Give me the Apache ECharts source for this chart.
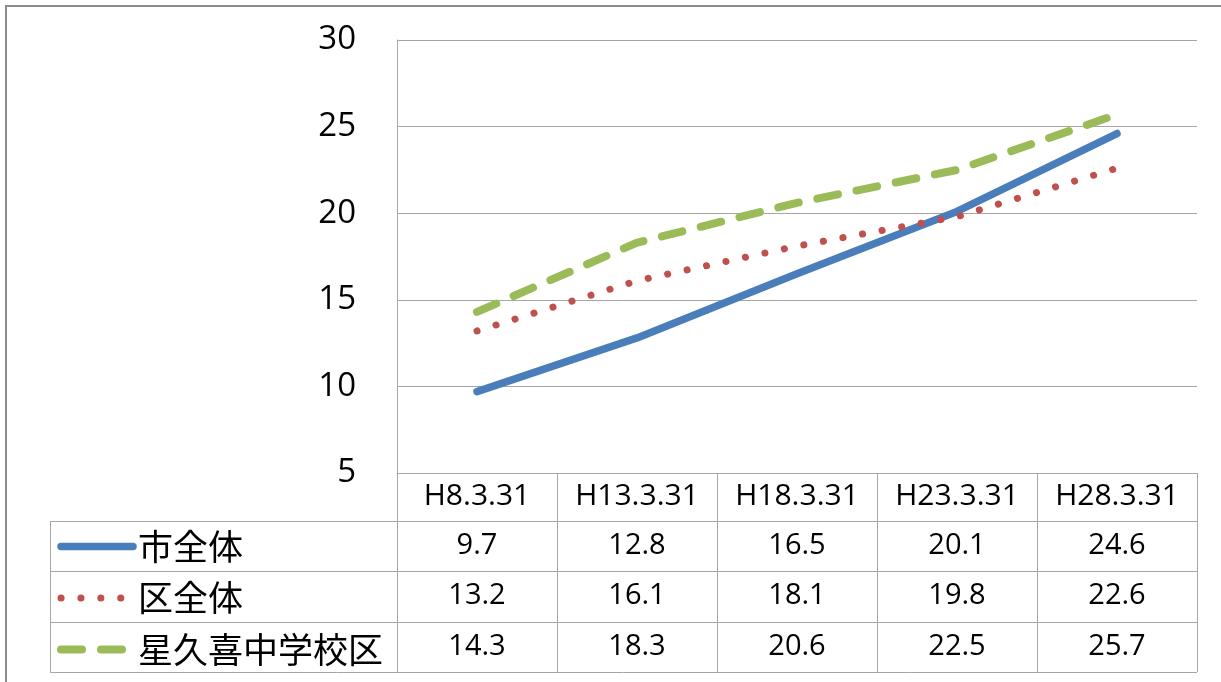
<!DOCTYPE html>
<html>
<head>
<meta charset="utf-8">
<script src="https://cdn.jsdelivr.net/npm/echarts@6/dist/echarts.min.js"></script>
<style>
  html, body { margin: 0; padding: 0; background: #fff; }
  #chart { width: 1221px; height: 682px; }
</style>
</head>
<body>
<div id="chart"></div>
<script>
// 年次
const categories = ['H8.3.31', 'H13.3.31', 'H18.3.31', 'H23.3.31', 'H28.3.31'];
const seriesNames = ['市全体', '区全体', '星久喜中学校区'];
// 値
const cityValues = [9.7, 12.8, 16.5, 20.1, 24.6];
const wardValues = [13.2, 16.1, 18.1, 19.8, 22.6];
const schoolValues = [14.3, 18.3, 20.6, 22.5, 25.7];
// Y軸
const yMin = 5;
const yMax = 30;
const yStep = 5;

const lineGray = '#a6a6a6';
const numFont = '"Open Sans", sans-serif';
const cjkFont = '"Noto Sans CJK JP", sans-serif';

const myChart = echarts.init(document.getElementById('chart'));

// データ表の行（x軸を下にずらして使う）
function tableAxis(values, offset, rowH) {
  return {
    type: 'category',
    gridIndex: 0,
    position: 'bottom',
    offset: offset,
    data: values.map(v => v.toFixed(1)),
    boundaryGap: true,
    axisLine: { show: true, lineStyle: { color: lineGray, width: 1 } },
    axisTick: { show: true, interval: 0, length: rowH, lineStyle: { color: lineGray, width: 1 } },
    axisLabel: { interval: 0, margin: 10, fontSize: 29, color: '#000', fontFamily: numFont },
    splitLine: { show: false }
  };
}

const styles = [
  { color: '#4a7ebb', width: 7.5, type: 'solid' },
  { color: '#c0504d', width: 7, type: [0.1, 19.8] },
  { color: '#9bbb59', width: 8, type: [21, 19] }
];
const allValues = [cityValues, wardValues, schoolValues];

let option = {
  animation: false,
  backgroundColor: '#fff',
  grid: { left: 397, right: 24, top: 40, bottom: 209, containLabel: false },
  legend: {
    orient: 'vertical',
    left: 57,
    top: 529,
    padding: 0,
    itemWidth: 72,
    itemHeight: 34,
    itemGap: 16.5,
    selectedMode: false,
    itemStyle: { opacity: 0 },
    data: seriesNames.map((n, i) => ({
      name: n,
      lineStyle: { width: styles[i].width }
    })),
    textStyle: { fontSize: 35, color: '#000', fontFamily: cjkFont, lineHeight: 34 }
  },
  xAxis: [
    {
      type: 'category',
      data: categories,
      boundaryGap: true,
      axisLine: { show: true, lineStyle: { color: lineGray, width: 1 } },
      axisTick: { show: true, interval: 0, length: 48, lineStyle: { color: lineGray, width: 1 } },
      axisLabel: { interval: 0, margin: 8, fontSize: 30, color: '#000', fontFamily: numFont },
      splitLine: { show: false }
    },
    tableAxis(cityValues, 48, 50),
    tableAxis(wardValues, 98, 51),
    tableAxis(schoolValues, 149, 50)
  ],
  yAxis: {
    type: 'value',
    min: yMin,
    max: yMax,
    interval: yStep,
    axisLine: { show: true, lineStyle: { color: lineGray, width: 1 } },
    axisTick: { show: false },
    axisLabel: { margin: 41, fontSize: 33, color: '#000', fontFamily: numFont },
    splitLine: { show: true, lineStyle: { color: lineGray, width: 1 } }
  },
  series: seriesNames.map((n, i) => ({
    name: n,
    type: 'line',
    xAxisIndex: 0,
    data: allValues[i],
    symbol: 'none',
    smooth: false,
    lineStyle: {
      color: styles[i].color,
      width: styles[i].width,
      type: styles[i].type,
      cap: 'round',
      join: 'round'
    },
    itemStyle: { color: styles[i].color }
  })),
  graphic: [
    // 外枠
    { type: 'rect', shape: { x: 6, y: 6, width: 1400, height: 900 },
      style: { fill: null, stroke: '#8c8c8c', lineWidth: 2 }, silent: true },
    // 凡例列の罫線
    { type: 'line', shape: { x1: 50, y1: 521.5, x2: 397, y2: 521.5 }, style: { stroke: lineGray, lineWidth: 1 } },
    { type: 'line', shape: { x1: 50, y1: 571.5, x2: 397, y2: 571.5 }, style: { stroke: lineGray, lineWidth: 1 } },
    { type: 'line', shape: { x1: 50, y1: 622.5, x2: 397, y2: 622.5 }, style: { stroke: lineGray, lineWidth: 1 } },
    { type: 'line', shape: { x1: 50, y1: 672.5, x2: 1197, y2: 672.5 }, style: { stroke: lineGray, lineWidth: 1 } },
    { type: 'line', shape: { x1: 50.5, y1: 521, x2: 50.5, y2: 673 }, style: { stroke: lineGray, lineWidth: 1 } }
  ]
};

myChart.setOption(option);
</script>
</body>
</html>
